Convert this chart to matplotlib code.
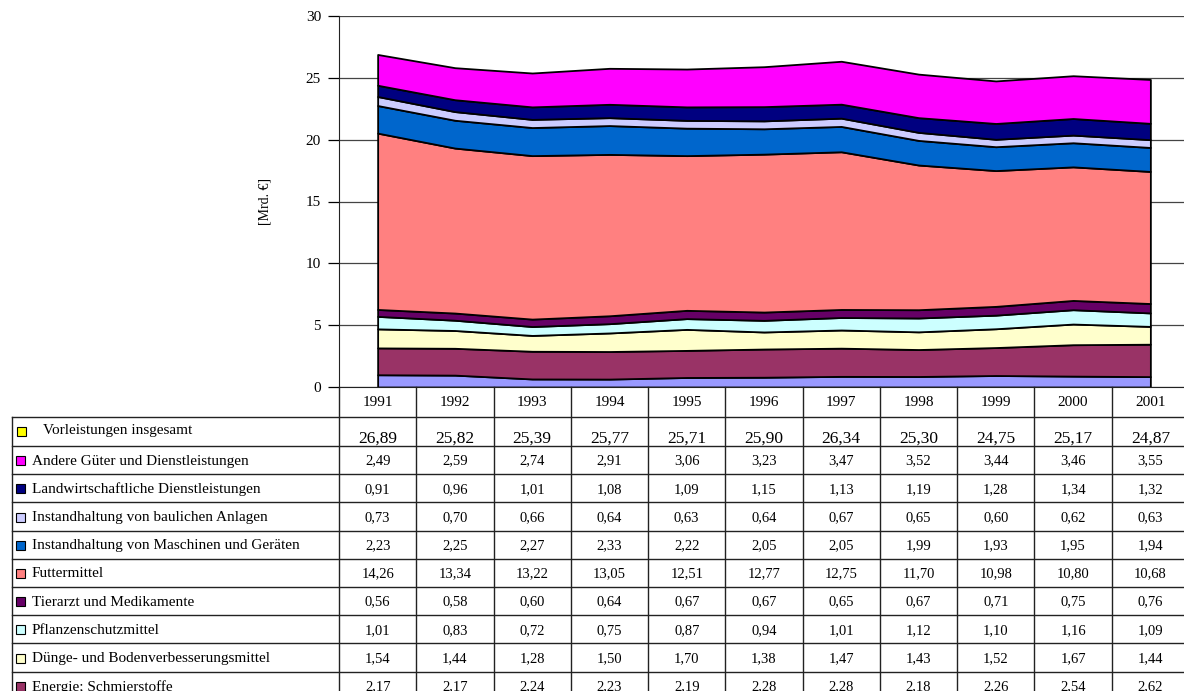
import matplotlib
matplotlib.use('Agg')
import matplotlib.pyplot as plt
from matplotlib.patches import Rectangle

plt.rcParams['font.family'] = ['Liberation Serif', 'DejaVu Serif']

# Daten [Mrd. €]
years = ['1991', '1992', '1993', '1994', '1995', '1996', '1997', '1998', '1999', '2000', '2001']
saatgut = [0.99, 0.96, 0.65, 0.64, 0.77, 0.79, 0.86, 0.85, 0.93, 0.88, 0.84]
energie = [2.17, 2.17, 2.24, 2.23, 2.19, 2.28, 2.28, 2.18, 2.26, 2.54, 2.62]
duenge = [1.54, 1.44, 1.28, 1.50, 1.70, 1.38, 1.47, 1.43, 1.52, 1.67, 1.44]
pflanzenschutz = [1.01, 0.83, 0.72, 0.75, 0.87, 0.94, 1.01, 1.12, 1.10, 1.16, 1.09]
tierarzt = [0.56, 0.58, 0.60, 0.64, 0.67, 0.67, 0.65, 0.67, 0.71, 0.75, 0.76]
futter = [14.26, 13.34, 13.22, 13.05, 12.51, 12.77, 12.75, 11.70, 10.98, 10.80, 10.68]
maschinen = [2.23, 2.25, 2.27, 2.33, 2.22, 2.05, 2.05, 1.99, 1.93, 1.95, 1.94]
baulich = [0.73, 0.70, 0.66, 0.64, 0.63, 0.64, 0.67, 0.65, 0.60, 0.62, 0.63]
dienst = [0.91, 0.96, 1.01, 1.08, 1.09, 1.15, 1.13, 1.19, 1.28, 1.34, 1.32]
andere = [2.49, 2.59, 2.74, 2.91, 3.06, 3.23, 3.47, 3.52, 3.44, 3.46, 3.55]
insgesamt = [26.89, 25.82, 25.39, 25.77, 25.71, 25.90, 26.34, 25.30, 24.75, 25.17, 24.87]

# Schichten von unten nach oben
layers = [saatgut, energie, duenge, pflanzenschutz, tierarzt, futter,
          maschinen, baulich, dienst, andere]
layer_colors = ['#9999FF', '#993366', '#FFFFCC', '#CCFFFF', '#660066', '#FF8080',
                '#0066CC', '#CCCCFF', '#000080', '#FF00FF']

# Tabelle (von oben nach unten)
table_labels = ['Vorleistungen insgesamt', 'Andere Güter und Dienstleistungen',
                'Landwirtschaftliche Dienstleistungen', 'Instandhaltung von baulichen Anlagen',
                'Instandhaltung von Maschinen und Geräten', 'Futtermittel',
                'Tierarzt und Medikamente', 'Pflanzenschutzmittel',
                'Dünge- und Bodenverbesserungsmittel', 'Energie; Schmierstoffe']
table_values = [insgesamt, andere, dienst, baulich, maschinen, futter,
                tierarzt, pflanzenschutz, duenge, energie]
table_colors = ['#FFFF00', '#FF00FF', '#000080', '#CCCCFF', '#0066CC', '#FF8080',
                '#660066', '#CCFFFF', '#FFFFCC', '#993366']

W, H = 1184, 691
fig = plt.figure(figsize=(W / 100, H / 100), dpi=100)

x0, x1 = 339, 339 + 850  # plot area in pixels
y_top, y_bot = 16, 387
ax = fig.add_axes([x0 / W, (H - y_bot) / H, (x1 - x0) / W, (y_bot - y_top) / H])
x = list(range(len(years)))
ax.stackplot(x, layers, colors=layer_colors, edgecolor='black', linewidth=1.3)
ax.set_xlim(-0.5, len(years) - 0.5)
ax.set_ylim(0, 30)
ax.set_yticks(range(0, 31, 5))
ax.set_xticks([])
ax.set_axisbelow(True)
ax.yaxis.grid(True, color='#444444', linewidth=0.9)
ax.spines['top'].set_visible(False)
ax.spines['right'].set_visible(False)
ax.spines['left'].set_color('#222222')
ax.spines['bottom'].set_color('#222222')
ax.tick_params(axis='y', length=8, width=0.9, direction='out', labelsize=11, pad=5)
ax.set_ylabel('[Mrd. €]', fontsize=10)
ax.yaxis.set_label_coords(-0.079, 0.5)

# Tabelle im Pixelraster zeichnen
ov = fig.add_axes([0, 0, 1, 1])
ov.set_xlim(0, W)
ov.set_ylim(H, 0)
ov.axis('off')
ov.patch.set_alpha(0)

col_w = (x1 - x0) / len(years)
line_c = '#222222'
for i in range(len(years) + 1):
    xc = x0 + col_w * i
    ov.plot([xc, xc], [y_bot, H], color=line_c, lw=1)
for i, yr in enumerate(years):
    ov.text(x0 + col_w * (i + 0.5), 402, yr, ha='center', va='center', fontsize=11)

row_edges = [417, 446]
for i in range(1, len(table_labels) + 1):
    row_edges.append(446 + 28.2 * i)
ov.plot([12, 12], [417, H], color=line_c, lw=1)
for ye in row_edges:
    ov.plot([12, W], [ye, ye], color=line_c, lw=1)

for r, (lab, vals, col) in enumerate(zip(table_labels, table_values, table_colors)):
    top, bot = row_edges[r], row_edges[r + 1]
    yc = (top + bot) / 2
    if r == 0:
        ov.add_patch(Rectangle((17, yc - 5), 9, 9, facecolor=col, edgecolor='black', lw=0.8))
        ov.text(43, yc - 1, lab, ha='left', va='center', fontsize=11)
        for i, v in enumerate(vals):
            ov.text(x0 + col_w * (i + 0.5), bot + 1, f'{v:.2f}'.replace('.', ','),
                    ha='center', va='bottom', fontsize=12.5)
    else:
        ov.add_patch(Rectangle((16, yc - 4), 9, 9, facecolor=col, edgecolor='black', lw=0.8))
        ov.text(32, yc + 1, lab, ha='left', va='center', fontsize=11)
        for i, v in enumerate(vals):
            ov.text(x0 + col_w * (i + 0.5), yc + 1, f'{v:.2f}'.replace('.', ','),
                    ha='center', va='center', fontsize=10.5)

fig.savefig('out.png', dpi=100)
